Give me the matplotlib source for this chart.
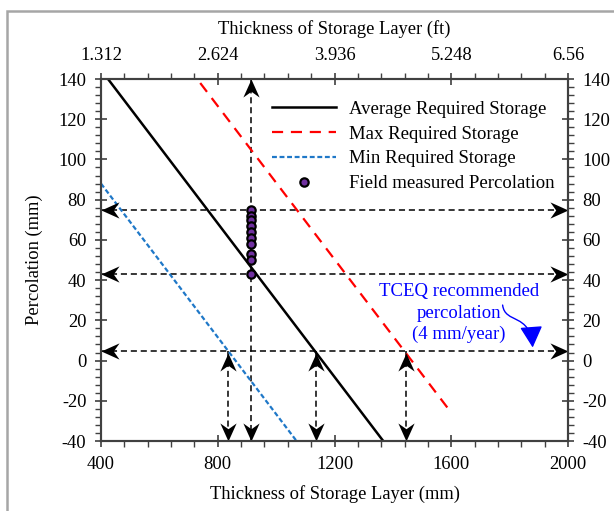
import numpy as np
import matplotlib.pyplot as plt
from matplotlib.path import Path
from matplotlib.patches import Rectangle, FancyArrowPatch
from matplotlib.ticker import MultipleLocator

plt.rcParams['font.family'] = ['Liberation Serif', 'DejaVu Serif']
plt.rcParams['axes.unicode_minus'] = False

# required storage lines: thickness (mm) vs percolation (mm)
avg_x = [424, 1367]
avg_y = [140, -40]
max_x = [740, 1590]
max_y = [138, -24]
min_x = [400, 1070]
min_y = [88, -40]

# field measured percolation at the built layer thickness
field_x = 915
field_perc = [75, 72, 70, 67, 64, 61, 58, 53, 50, 43]

# TCEQ recommended percolation and thickness needed (min, avg, max)
tceq_perc = 5
req_thick = [835, 1137, 1446]

mm_ticks = [400, 800, 1200, 1600, 2000]
ft_labels = ['1.312', '2.624', '3.936', '5.248', '6.56']
perc_ticks = [-40, -20, 0, 20, 40, 60, 80, 100, 120, 140]

xmin, xmax = 400, 2000
ymin, ymax = -40, 140
fs = 13.3


def head(angle):
    # stealth arrow head, tip at origin
    v = np.array([[0, 0], [-1, 0.45], [-0.68, 0], [-1, -0.45], [0, 0]])
    a = np.deg2rad(angle)
    r = np.array([[np.cos(a), -np.sin(a)], [np.sin(a), np.cos(a)]])
    v = v @ r.T
    return Path(v, [Path.MOVETO, Path.LINETO, Path.LINETO, Path.LINETO, Path.CLOSEPOLY])

heads = {'right': head(0), 'up': head(90), 'left': head(180), 'down': head(270)}

fig = plt.figure(figsize=(6.14, 5.11), dpi=100)
ax = fig.add_axes([101/614, 70/511, 467/614, 362/511])

ax.plot(avg_x, avg_y, color='k', lw=1.8, label='Average Required Storage', zorder=3)
ax.plot(max_x, max_y, color='red', lw=1.6, ls=(0, (5, 3.5)), label='Max Required Storage', zorder=3)
ax.plot(min_x, min_y, color='#1f78c8', lw=1.6, ls=(0, (2.2, 1.2)), label='Min Required Storage', zorder=3)
ax.plot([field_x]*len(field_perc), field_perc, 'o', ms=6, mfc='#7030a0', mec='k', mew=1.6,
        label='Field measured Percolation', zorder=5)

dash = (0, (4, 2.5))
arr = dict(ms=26, mfc='k', mec='k', mew=0, clip_on=False, zorder=6, ls='none')
for y in [max(field_perc), min(field_perc), tceq_perc]:
    ax.plot([xmin, xmax], [y, y], color='k', lw=1.1, ls=dash, zorder=2)
    ax.plot(xmin, y, marker=heads['left'], **arr)
    ax.plot(xmax, y, marker=heads['right'], **arr)

ax.plot([field_x, field_x], [ymin, ymax], color='k', lw=1.1, ls=dash, zorder=2)
ax.plot(field_x, ymax, marker=heads['up'], **arr)
ax.plot(field_x, ymin, marker=heads['down'], **arr)

for x in req_thick:
    ax.plot([x, x], [tceq_perc, ymin], color='k', lw=1.1, ls=dash, zorder=2)
    ax.plot(x, tceq_perc - 1, marker=heads['up'], **arr)
    ax.plot(x, ymin, marker=heads['down'], **arr)

ax.text(1626, 23.5, 'TCEQ recommended\npercolation\n(4 mm/year)', color='blue', fontsize=13.5,
        ha='center', va='center', linespacing=1.32)
curve = Path([(1776, 27.6), (1784, 18), (1870, 24), (1879, 6.5)],
             [Path.MOVETO, Path.CURVE4, Path.CURVE4, Path.CURVE4])
ax.add_patch(FancyArrowPatch(path=curve, arrowstyle='-|>,head_length=0.6,head_width=0.32',
                             mutation_scale=22, color='blue', lw=1))

ax.set_xlim(xmin, xmax)
ax.set_ylim(ymin, ymax)
ax.set_xticks(mm_ticks)
ax.set_yticks(perc_ticks)
ax.xaxis.set_minor_locator(MultipleLocator(80))
ax.yaxis.set_minor_locator(MultipleLocator(4))
ax.tick_params(which='major', direction='inout', length=9, width=1.2, labelsize=fs,
               right=True, labelright=True, color='#404040', pad=6)
ax.tick_params(which='minor', direction='out', length=4, width=1, right=True, color='#404040')
ax.set_xlabel('Thickness of Storage Layer (mm)', fontsize=fs, labelpad=9)
ax.set_ylabel('Percolation (mm)', fontsize=fs, labelpad=11)

top = ax.twiny()
top.set_xlim(xmin, xmax)
top.set_xticks(mm_ticks, ft_labels)
top.xaxis.set_minor_locator(MultipleLocator(80))
top.tick_params(which='major', direction='inout', length=9, width=1.2, labelsize=fs,
                color='#404040', pad=6)
top.tick_params(which='minor', direction='out', length=4, width=1, color='#404040')
top.set_xlabel('Thickness of Storage Layer (ft)', fontsize=fs, labelpad=10)

for a in (ax, top):
    for s in a.spines.values():
        s.set_color('#404040')
        s.set_linewidth(1.5)

ax.legend(loc='upper left', bbox_to_anchor=(0.366, 0.94), frameon=False, fontsize=13.5,
          handlelength=3.4, handletextpad=0.7, labelspacing=0.41, borderpad=0, borderaxespad=0)

fig.patches.append(Rectangle((7/614, -0.1), 1.2, 1.1 - 10.5/511, transform=fig.transFigure,
                             fill=False, ec='#a6a6a6', lw=1.8))

fig.savefig('out.png', dpi=100)
